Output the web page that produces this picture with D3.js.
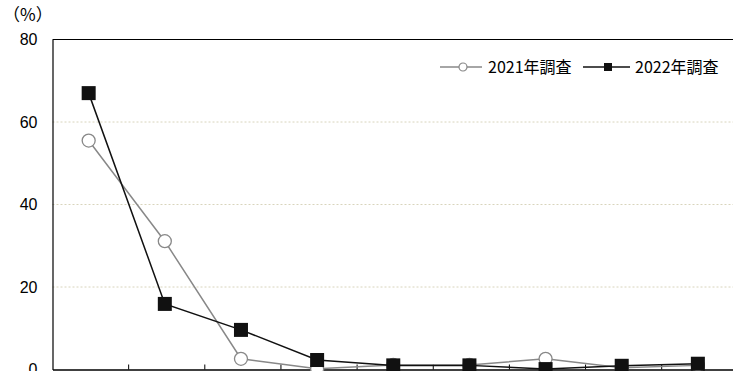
<!DOCTYPE html>
<html>
<head>
<meta charset="utf-8">
<script src="https://cdn.jsdelivr.net/npm/d3@7"></script>
<style>
  body { margin: 0; background: #fff; }
  svg { display: block; font-family: "Liberation Sans", Arial, sans-serif; }
</style>
</head>
<body>
<div id="chart"></div>
<script>
// categories (their labels sit below the visible area in the original, so they are not drawn)
const categories = ["1", "2", "3", "4", "5", "6", "7", "8", "9"];
const survey2021 = [55.5, 31.1, 2.6, 0.2, 1.1, 1.1, 2.6, 0.4, 1.0];
const survey2022 = [67.0, 15.9, 9.6, 2.3, 1.0, 1.0, 0.1, 0.9, 1.4];
const yTicks = [0, 20, 40, 60, 80];
const seriesNames = ["2021年調査", "2022年調査"];

const w = 733, h = 371;
const padLeft = 52.5, padTop = 39.5, padBottom = 369.5, bandW = 76.15;

const svg = d3.select("#chart").append("svg")
  .attr("width", w)
  .attr("height", h);

const xScale = d3.scaleBand()
  .domain(categories)
  .range([padLeft, padLeft + bandW * categories.length])
  .paddingInner(0).paddingOuter(0);

const yScale = d3.scaleLinear()
  .domain([0, 80])
  .range([padBottom, padTop]);

const px = d => xScale(d) + xScale.bandwidth() * 0.475;

// grid lines
svg.append("g")
  .selectAll("line")
  .data(yTicks.filter(t => t > 0 && t < 80))
  .enter().append("line")
  .attr("x1", padLeft).attr("x2", w)
  .attr("y1", d => yScale(d)).attr("y2", d => yScale(d))
  .attr("stroke", "#d8d4bc")
  .attr("stroke-width", 1)
  .attr("stroke-dasharray", "2,2");

// top frame
svg.append("line")
  .attr("x1", padLeft).attr("x2", w)
  .attr("y1", yScale(80)).attr("y2", yScale(80))
  .attr("stroke", "#000").attr("stroke-width", 1.2);

// y axis
const yAxis = d3.axisLeft(yScale).tickValues(yTicks).tickSize(0).tickPadding(15);
const gy = svg.append("g")
  .attr("transform", "translate(" + padLeft + ",0)")
  .call(yAxis);
gy.select(".domain").attr("stroke", "#000").attr("stroke-width", 1.2);
gy.selectAll("text").attr("font-size", 16).attr("fill", "#000");

// x axis, ticks pointing inward, no labels
const xAxis = d3.axisBottom(xScale).tickSize(0).tickFormat("");
const gx = svg.append("g")
  .attr("transform", "translate(0," + padBottom + ")")
  .call(xAxis);
gx.select(".domain").attr("stroke", "#000").attr("stroke-width", 1.5);
gx.selectAll(".tick").remove();
svg.append("g")
  .selectAll("line")
  .data(categories.slice(1))
  .enter().append("line")
  .attr("x1", d => xScale(d)).attr("x2", d => xScale(d))
  .attr("y1", padBottom).attr("y2", padBottom - 5)
  .attr("stroke", "#000").attr("stroke-width", 1);

// unit label
svg.append("text")
  .attr("x", 3).attr("y", 21)
  .attr("font-family", "'Noto Sans CJK JP', sans-serif")
  .attr("font-size", 17)
  .text("（%）");

const line = d3.line()
  .x((d, i) => px(categories[i]))
  .y(d => yScale(d));

// 2021 series
svg.append("path")
  .datum(survey2021)
  .attr("d", line)
  .attr("fill", "none")
  .attr("stroke", "#888")
  .attr("stroke-width", 1.5);
svg.append("g")
  .selectAll("circle")
  .data(survey2021)
  .enter().append("circle")
  .attr("cx", (d, i) => px(categories[i]))
  .attr("cy", d => yScale(d))
  .attr("r", 6.5)
  .attr("fill", "#fff")
  .attr("stroke", "#888")
  .attr("stroke-width", 1.3);

// 2022 series
svg.append("path")
  .datum(survey2022)
  .attr("d", line)
  .attr("fill", "none")
  .attr("stroke", "#111")
  .attr("stroke-width", 1.5);
svg.append("g")
  .selectAll("rect")
  .data(survey2022)
  .enter().append("rect")
  .attr("x", (d, i) => px(categories[i]) - 7)
  .attr("y", d => yScale(d) - 7)
  .attr("width", 14)
  .attr("height", 14)
  .attr("fill", "#111");

// legend
const legend = svg.append("g").attr("font-family", "'Noto Sans CJK JP', sans-serif").attr("font-size", 16);
const ly = 67;
const l1 = legend.append("g").attr("transform", "translate(440," + ly + ")");
l1.append("line").attr("x1", 0).attr("x2", 42).attr("stroke", "#888").attr("stroke-width", 1.3);
l1.append("circle").attr("cx", 23).attr("r", 4).attr("fill", "#fff").attr("stroke", "#888").attr("stroke-width", 1.2);
l1.append("text").attr("x", 48).attr("dy", "0.35em").text(seriesNames[0]);

const l2 = legend.append("g").attr("transform", "translate(583," + ly + ")");
l2.append("line").attr("x1", 0).attr("x2", 47).attr("stroke", "#111").attr("stroke-width", 1.3);
l2.append("rect").attr("x", 21).attr("y", -4).attr("width", 8).attr("height", 8).attr("fill", "#111");
l2.append("text").attr("x", 52).attr("dy", "0.35em").text(seriesNames[1]);
</script>
</body>
</html>
